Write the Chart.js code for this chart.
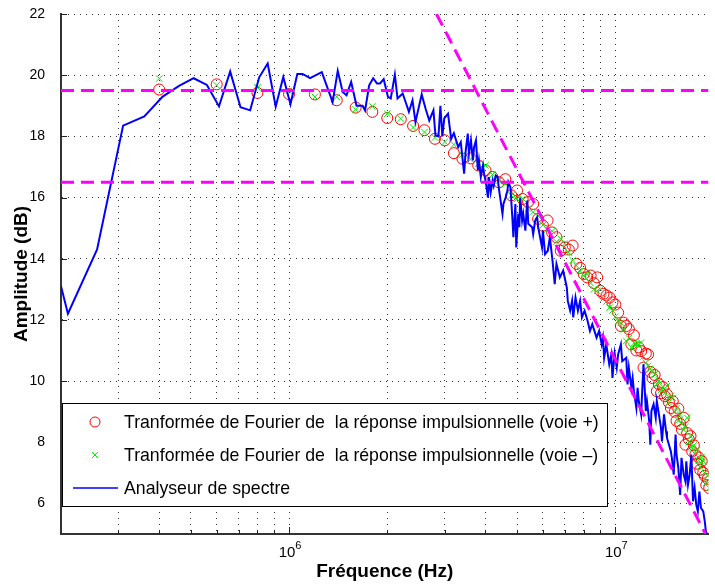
<!DOCTYPE html>
<html>
<head>
<meta charset="utf-8">
<script src="https://cdn.jsdelivr.net/npm/chart.js@4.4.1/dist/chart.umd.min.js"></script>
<style>
    html, body { margin: 0; padding: 0; background: #fff; }
</style>
</head>
<body>
<canvas id="graphique" width="715" height="585"></canvas>
<script>
// Analyseur de spectre (fréquences en MHz, amplitude en dB)
const freqAnalyseur = [0.2, 0.21, 0.258, 0.31, 0.36, 0.41, 0.46, 0.51, 0.56, 0.61, 0.66, 0.71, 0.76, 0.81, 0.86, 0.91, 0.96, 1.01, 1.06, 1.10,
    1.16, 1.26, 1.36, 1.41, 1.46, 1.50, 1.55, 1.61, 1.68, 1.71, 1.76, 1.81, 1.86, 1.90, 1.95, 2.01, 2.05, 2.11, 2.15, 2.23,
    2.33, 2.39, 2.44, 2.55, 2.62, 2.69, 2.77, 2.81, 2.87, 2.91, 2.95, 2.99, 3.07, 3.14, 3.2, 3.3, 3.36, 3.44, 3.48, 3.53,
    3.56, 3.61, 3.66, 3.69, 3.74, 3.79, 3.82, 3.87, 3.93, 3.96, 4.01, 4.07, 4.10, 4.15, 4.21, 4.24, 4.30, 4.36, 4.39, 4.45,
    4.51, 4.54, 4.61, 4.67, 4.70, 4.77, 4.84, 4.87, 4.94, 4.97, 5.04, 5.08, 5.11, 5.18, 5.22, 5.30, 5.37, 5.41, 5.56, 5.60,
    5.68, 5.76, 5.80, 5.88, 5.96, 6.00, 6.09, 6.21, 6.30, 6.42, 6.52, 6.60, 6.76, 6.92, 7.10, 7.15, 7.27, 7.37, 7.43, 7.55,
    7.68, 7.80, 7.90, 8.05, 8.22, 8.36, 8.50, 8.76, 8.92, 9.08, 9.16, 9.24, 9.38, 9.58, 9.72, 9.80, 9.95, 10.1, 10.2, 10.4,
    10.5, 10.8, 10.9, 11.0, 11.2, 11.3, 11.4, 11.6, 11.7, 11.8, 12.0, 12.1, 12.2, 12.4, 12.5, 12.7, 12.8, 12.9, 13.1, 13.3,
    13.4, 13.6, 13.8, 13.9, 14.1, 14.3, 14.4, 14.6, 14.8, 14.9, 15.1, 15.3, 15.4, 15.6, 15.8, 15.95, 16.2, 16.4, 16.5, 16.7,
    16.9, 17.1, 17.3, 17.5, 17.7, 17.9, 18.1, 18.3, 18.6, 18.8, 18.95, 19.1];
const ampAnalyseur = [13.1, 12.2, 14.3, 18.35, 18.65, 19.3, 19.65, 19.9, 19.68, 18.98, 20.12, 18.95, 18.85, 19.93, 20.38, 18.97, 19.94, 19.05, 20.04, 20.04,
    19.9, 20.1, 19.12, 20.14, 19.45, 19.34, 19.78, 19.0, 19.0, 18.85, 19.67, 19.9, 19.73, 19.73, 19.87, 19.29, 19.24, 20.02, 19.24, 19.4,
    18.8, 19.18, 18.47, 19.37, 18.91, 18.52, 18.85, 18.03, 18.0, 19.0, 18.0, 18.59, 18.74, 17.92, 18.1, 17.65, 17.81, 16.78, 17.54, 18.09,
    17.43, 17.87, 17.21, 17.65, 17.87, 16.89, 17.21, 16.67, 17.05, 16.78, 16.5, 16.0, 16.67, 16.17, 16.56, 16.39, 16.72, 16.67, 16.34, 15.9,
    15.47, 15.79, 16.0, 16.23, 16.5, 16.34, 15.25, 14.7, 15.79, 14.37, 15.47, 15.03, 16.0, 15.25, 15.47, 14.92, 15.9, 15.14, 15.03, 14.8,
    15.25, 15.36, 15.03, 14.7, 14.37, 14.92, 14.15, 14.26, 14.7, 13.93, 13.17, 13.83, 13.39, 13.61, 13.06, 12.62, 12.3, 12.62, 12.08, 12.73,
    12.3, 12.62, 12.08, 12.3, 11.97, 11.64, 11.86, 11.42, 11.64, 11.2, 11.42, 10.76, 11.2, 10.55, 10.87, 10.1, 10.9, 10.44, 10.87, 11.2,
    10.65, 10.76, 9.89, 10.44, 9.78, 10.1, 9.67, 9.12, 9.78, 9.34, 8.91, 9.78, 10.55, 9.02, 9.34, 8.69, 7.92, 9.02, 9.24, 8.8,
    9.34, 8.91, 8.47, 8.03, 8.91, 8.36, 8.14, 7.92, 7.7, 7.49, 6.94, 8.25, 7.6, 7.16, 6.28, 7.49, 6.94, 6.72, 7.38, 6.61,
    6.94, 7.6, 6.07, 6.5, 5.96, 5.74, 6.39, 5.85, 5.74, 5.41, 5.08, 5.0];

// Transformée de Fourier de la réponse impulsionnelle (fréquences en MHz)
const freqTF = [0.4, 0.6, 0.8, 1.0, 1.2, 1.4, 1.6, 1.8, 2.0, 2.2, 2.4, 2.6, 2.8, 3.0, 3.2, 3.4, 3.6, 3.8, 4.0, 4.2,
    4.4, 4.6, 4.8, 5.0, 5.2, 5.4, 5.6, 5.8, 6.0, 6.2, 6.4, 6.6, 6.8, 7.0, 7.2, 7.4, 7.6, 7.8, 8.0, 8.2,
    8.4, 8.6, 8.8, 9.0, 9.2, 9.4, 9.6, 9.8, 10.0, 10.2, 10.4, 10.6, 10.8, 11.0, 11.2, 11.4, 11.6, 11.8, 12.0, 12.2,
    12.4, 12.6, 12.8, 13.0, 13.2, 13.4, 13.6, 13.8, 14.0, 14.2, 14.4, 14.6, 14.8, 15.0, 15.2, 15.4, 15.6, 15.8, 16.0, 16.2,
    16.4, 16.6, 16.8, 17.0, 17.2, 17.4, 17.6, 17.8, 18.0, 18.2, 18.4, 18.6, 18.8, 19.0, 19.2, 19.4];
const ampVoiePlus = [19.53, 19.7, 19.42, 19.38, 19.37, 19.18, 18.94, 18.8, 18.6, 18.56, 18.34, 18.2, 17.92, 17.87, 17.45, 17.27, 17.28, 17.05, 16.89, 16.67,
    16.5, 16.6, 16.07, 16.23, 15.95, 15.85, 15.79, 15.3, 15.08, 15.25, 14.86, 14.7, 14.26, 14.37, 14.3, 14.43, 13.83, 13.7, 13.5, 13.39,
    13.45, 13.2, 13.39, 12.95, 12.85, 12.8, 12.73, 12.57, 12.5, 12.24, 11.8, 11.91, 11.8, 11.7, 11.2, 11.5, 11.0, 11.1, 10.98, 10.44,
    10.9, 10.87, 10.3, 10.1, 10.2, 9.67, 9.9, 9.6, 9.8, 9.5, 9.56, 9.3, 9.12, 9.34, 9.0, 8.7, 9.1, 8.6, 8.41, 8.8,
    7.92, 8.3, 8.1, 8.2, 7.7, 7.9, 7.6, 7.3, 7.5, 7.1, 7.38, 7.0, 6.9, 6.6, 6.8, 6.5];
const ampVoieMoins = [19.89, 19.67, 19.6, 19.49, 19.29, 19.29, 18.88, 18.98, 18.74, 18.58, 18.29, 18.14, 17.96, 17.82, 17.73, 17.4, 17.25, 17.1, 17.05, 16.75,
    16.55, 16.45, 16.07, 15.95, 15.96, 15.64, 15.52, 15.4, 15.1, 14.95, 14.9, 14.55, 14.65, 14.49, 14.2, 13.95, 13.77, 13.6, 13.44, 13.5,
    13.2, 13.0, 12.95, 13.0, 12.7, 12.6, 12.4, 12.3, 12.1, 11.95, 11.91, 11.7, 11.31, 11.4, 11.1, 11.25, 11.2, 11.2, 11.26, 10.8,
    10.6, 10.5, 10.4, 10.3, 10.22, 9.9, 10.0, 9.7, 9.8, 9.6, 9.84, 9.3, 9.5, 9.45, 9.0, 9.12, 8.7, 8.9, 8.6, 8.4,
    8.5, 8.8, 8.0, 8.2, 7.8, 7.9, 7.6, 7.74, 7.4, 7.2, 7.5, 7.38, 7.0, 6.67, 6.9, 6.5];

// Asymptotes (pointillés magenta)
const niveauxRef = [19.5, 16.5];
const penteFreq = [2.83, 18.9];
const penteAmp = [22, 5];

// Graduations
const ticksY = [6, 8, 10, 12, 14, 16, 18, 20, 22];
const ticksXMajeurs = [1e6, 1e7];
const exposantsX = ['6', '7'];
const ticksXMineurs = [3e5, 4e5, 5e5, 6e5, 7e5, 8e5, 9e5, 2e6, 3e6, 4e6, 5e6, 6e6, 7e6, 8e6, 9e6];

const xMin = 2e5;
const xMax = 1.93e7;
const police = '"Liberation Sans", Arial, sans-serif';

const points = (xs, ys) => xs.map((f, i) => ({ x: f * 1e6, y: ys[i] }));

// Petits traits de graduation vers l'intérieur (style Matlab) + étiquettes 10^n
const reperesInterieurs = {
    id: 'reperesInterieurs',
    afterDraw(chart) {
        const { ctx, chartArea, scales } = chart;
        ctx.save();
        ctx.strokeStyle = '#222';
        ctx.lineWidth = 1;
        ctx.setLineDash([]);
        scales.y.ticks.forEach(t => {
            const py = Math.round(scales.y.getPixelForValue(t.value)) + 0.5;
            ctx.beginPath();
            ctx.moveTo(chartArea.left, py);
            ctx.lineTo(chartArea.left + 6, py);
            ctx.stroke();
        });
        scales.x.ticks.forEach(t => {
            const px = Math.round(scales.x.getPixelForValue(t.value)) + 0.5;
            const long = ticksXMajeurs.includes(t.value) ? 7 : 4;
            ctx.beginPath();
            ctx.moveTo(px, chartArea.bottom);
            ctx.lineTo(px, chartArea.bottom - long);
            ctx.stroke();
        });
        // étiquettes en puissance de 10
        ctx.fillStyle = '#000';
        ctx.textBaseline = 'alphabetic';
        ticksXMajeurs.forEach((v, i) => {
            const px = scales.x.getPixelForValue(v);
            ctx.font = '15px ' + police;
            const wBase = ctx.measureText('10').width;
            ctx.font = '11px ' + police;
            const wExp = ctx.measureText(exposantsX[i]).width;
            const x0 = px - (wBase + wExp) / 2 + 1;
            ctx.font = '15px ' + police;
            ctx.textAlign = 'left';
            ctx.fillText('10', x0, 557);
            ctx.font = '11px ' + police;
            ctx.fillText(exposantsX[i], x0 + wBase, 549);
        });
        ctx.restore();
    }
};

// Légende encadrée dans la zone du graphique
const legendeMatlab = {
    id: 'legendeMatlab',
    afterDraw(chart) {
        const ctx = chart.ctx;
        const box = { x: 62.5, y: 403.5, w: 545, h: 103 };
        ctx.save();
        ctx.fillStyle = '#fff';
        ctx.fillRect(box.x, box.y, box.w, box.h);
        ctx.strokeStyle = '#000';
        ctx.lineWidth = 1;
        ctx.setLineDash([]);
        ctx.strokeRect(box.x, box.y, box.w, box.h);

        const entrees = chart.data.datasets.filter(d => d.dansLegende);
        ctx.font = '17.7px ' + police;
        ctx.textBaseline = 'middle';
        entrees.forEach((d, i) => {
            const y = 422 + i * 33;
            const xm = 95;
            ctx.strokeStyle = d.borderColor;
            ctx.lineWidth = 1;
            if (d.pointStyle === 'circle') {
                ctx.beginPath();
                ctx.arc(xm, y, 5, 0, Math.PI * 2);
                ctx.stroke();
            } else if (d.pointStyle === 'crossRot') {
                ctx.beginPath();
                ctx.moveTo(xm - 3, y - 3); ctx.lineTo(xm + 3, y + 3);
                ctx.moveTo(xm + 3, y - 3); ctx.lineTo(xm - 3, y + 3);
                ctx.stroke();
            } else {
                ctx.lineWidth = 1.5;
                ctx.beginPath();
                ctx.moveTo(73, y); ctx.lineTo(118, y);
                ctx.stroke();
            }
            ctx.fillStyle = '#000';
            ctx.fillText(d.label, 124, y + 1);
        });
        ctx.restore();
    }
};

const ctx = document.getElementById('graphique').getContext('2d');

new Chart(ctx, {
    type: 'line',
    data: {
        datasets: [
            {
                label: 'Tranformée de Fourier de  la réponse impulsionnelle (voie +)',
                data: points(freqTF, ampVoiePlus),
                showLine: false,
                pointStyle: 'circle',
                pointRadius: 5.5,
                pointBorderWidth: 1,
                borderColor: '#ff0000',
                pointBorderColor: '#ff0000',
                pointBackgroundColor: 'rgba(0,0,0,0)',
                dansLegende: true,
                order: 4
            },
            {
                label: 'Tranformée de Fourier de  la réponse impulsionnelle (voie –)',
                data: points(freqTF, ampVoieMoins),
                showLine: false,
                pointStyle: 'crossRot',
                pointRadius: 4.5,
                pointBorderWidth: 1,
                borderColor: '#00ee00',
                pointBorderColor: '#00ee00',
                dansLegende: true,
                order: 3
            },
            {
                label: 'Analyseur de spectre',
                data: points(freqAnalyseur, ampAnalyseur),
                borderColor: '#0000ff',
                borderWidth: 2,
                pointRadius: 0,
                tension: 0,
                dansLegende: true,
                order: 2
            },
            ...niveauxRef.map(n => ({
                label: 'niveau ' + n,
                data: [{ x: xMin, y: n }, { x: xMax, y: n }],
                borderColor: '#ff00ff',
                borderWidth: 3,
                borderDash: [13, 7],
                pointRadius: 0,
                order: 1
            })),
            {
                label: 'pente',
                data: points(penteFreq, penteAmp),
                borderColor: '#ff00ff',
                borderWidth: 3,
                borderDash: [13, 7],
                pointRadius: 0,
                order: 1
            }
        ]
    },
    options: {
        responsive: false,
        animation: false,
        layout: { padding: { top: 14, right: 0, left: 0, bottom: 0 } },
        plugins: {
            legend: { display: false },
            tooltip: { enabled: false }
        },
        scales: {
            x: {
                type: 'logarithmic',
                min: xMin,
                max: xMax,
                afterBuildTicks: scale => {
                    scale.ticks = ticksXMineurs.concat(ticksXMajeurs).sort((a, b) => a - b).map(v => ({ value: v }));
                },
                afterFit: scale => {
                    scale.height = 51;
                    scale.paddingLeft = 0;
                    scale.paddingRight = 0;
                },
                ticks: {
                    autoSkip: false,
                    maxRotation: 0,
                    padding: 6,
                    font: { family: police, size: 14 },
                    callback: () => ''
                },
                grid: { color: '#333', lineWidth: 1, drawTicks: false },
                border: { display: true, color: '#333', width: 2, dash: [1, 5] },
                title: {
                    display: true,
                    text: 'Fréquence (Hz)',
                    color: '#000',
                    font: { family: police, size: 19, weight: 'bold' },
                    padding: { top: 0, bottom: 2 }
                }
            },
            y: {
                min: 5,
                max: 22,
                afterBuildTicks: scale => {
                    scale.ticks = ticksY.map(v => ({ value: v }));
                },
                afterFit: scale => {
                    scale.width = 61;
                    scale.paddingTop = 0;
                    scale.paddingBottom = 0;
                },
                ticks: {
                    padding: 16,
                    color: '#000',
                    font: { family: police, size: 14 }
                },
                grid: { color: '#333', lineWidth: 1, drawTicks: false },
                border: { display: true, color: '#333', width: 2, dash: [1, 5] },
                title: {
                    display: true,
                    text: 'Amplitude (dB)',
                    color: '#000',
                    font: { family: police, size: 19, weight: 'bold' },
                    padding: { top: 10, bottom: 0 }
                }
            }
        }
    },
    plugins: [reperesInterieurs, legendeMatlab]
});
</script>
</body>
</html>
